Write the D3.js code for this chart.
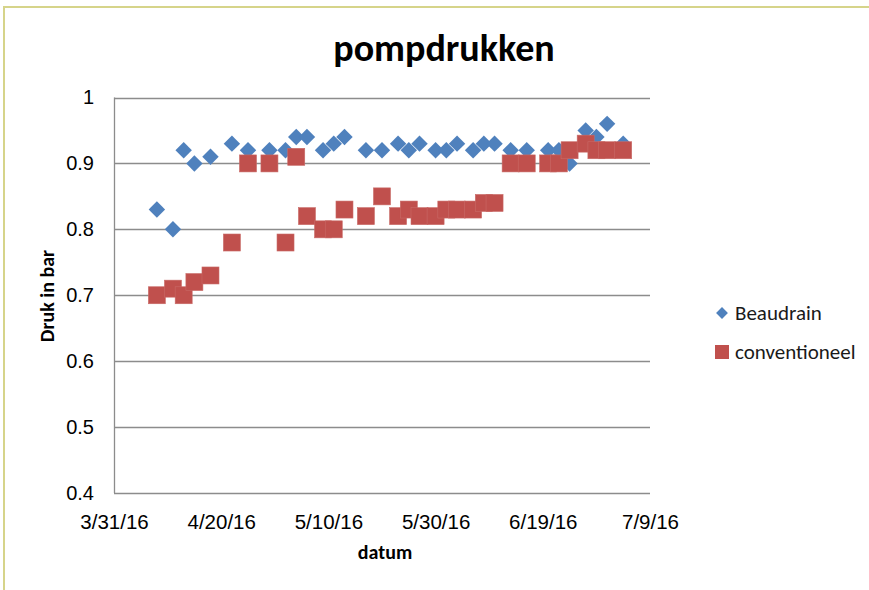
<!DOCTYPE html>
<html>
<head>
<meta charset="utf-8">
<script src="https://cdn.jsdelivr.net/npm/d3@7/dist/d3.min.js"></script>
<style>
  body { margin: 0; background: #fff; }
  svg { display: block; font-family: Carlito, Lato, 'Open Sans', sans-serif; }
</style>
</head>
<body>
<div id="container"></div>
<script>
const w = 869
const h = 590

// measurement dates (both series share them)
const dates = ['4/8/16', '4/11/16', '4/13/16', '4/15/16', '4/18/16', '4/22/16', '4/25/16', '4/29/16',
  '5/2/16', '5/4/16', '5/6/16', '5/9/16', '5/11/16', '5/13/16', '5/17/16', '5/20/16', '5/23/16',
  '5/25/16', '5/27/16', '5/30/16', '6/1/16', '6/3/16', '6/6/16', '6/8/16', '6/10/16', '6/13/16',
  '6/16/16', '6/20/16', '6/22/16', '6/24/16', '6/27/16', '6/29/16', '7/1/16', '7/4/16']

const beaudrain = [0.83, 0.80, 0.92, 0.90, 0.91, 0.93, 0.92, 0.92, 0.92, 0.94, 0.94, 0.92, 0.93,
  0.94, 0.92, 0.92, 0.93, 0.92, 0.93, 0.92, 0.92, 0.93, 0.92, 0.93, 0.93, 0.92, 0.92, 0.92, 0.92,
  0.90, 0.95, 0.94, 0.96, 0.93]

const conventioneel = [0.70, 0.71, 0.70, 0.72, 0.73, 0.78, 0.90, 0.90, 0.78, 0.91, 0.82, 0.80, 0.80,
  0.83, 0.82, 0.85, 0.82, 0.83, 0.82, 0.82, 0.83, 0.83, 0.83, 0.84, 0.84, 0.90, 0.90, 0.90, 0.90,
  0.92, 0.93, 0.92, 0.92, 0.92]

const xDomain = ['3/31/16', '7/9/16']
const xStepDays = 20
const yTicks = [0.4, 0.5, 0.6, 0.7, 0.8, 0.9, 1]

const parse = d3.timeParse('%m/%d/%y')
const fmt = d3.timeFormat('%-m/%-d/%y')

const plotLeft = 114
const plotRight = 650
const plotTop = 97.5
const plotBottom = 493

const svg = d3.select('div#container')
  .append('svg')
  .attr('width', w)
  .attr('height', h)

// outer frame
svg.append('path')
  .attr('d', 'M4,' + h + 'V7H' + w)
  .attr('fill', 'none')
  .attr('stroke', '#d6d48a')
  .attr('stroke-width', 2)

const x = d3.scaleTime()
  .domain(xDomain.map(parse))
  .range([plotLeft, plotRight])

const y = d3.scaleLinear()
  .domain([0.4, 1])
  .range([plotBottom, plotTop])

const xTicks = d3.range(0, 101, xStepDays).map(d => d3.timeDay.offset(parse(xDomain[0]), d))

// gridlines
svg.append('g')
  .selectAll('line')
  .data(yTicks)
  .enter().append('line')
  .attr('x1', plotLeft)
  .attr('x2', plotRight)
  .attr('y1', d => Math.round(y(d)) + 0.5)
  .attr('y2', d => Math.round(y(d)) + 0.5)
  .attr('stroke', '#8c8c8c')
  .attr('stroke-width', 1.3)

svg.append('line')
  .attr('x1', plotLeft + 0.5)
  .attr('x2', plotLeft + 0.5)
  .attr('y1', plotTop)
  .attr('y2', plotBottom)
  .attr('stroke', '#8c8c8c')
  .attr('stroke-width', 1.3)

// y axis labels
const yAxis = svg.append('g')
  .attr('transform', 'translate(' + plotLeft + ',0)')
  .call(d3.axisLeft(y).tickValues(yTicks).tickSize(0).tickPadding(20).tickFormat(d3.format('')))
yAxis.select('.domain').remove()
yAxis.selectAll('text')
  .attr('fill', '#000')
  .style('font-size', '20px')

// x axis labels
const xAxis = svg.append('g')
  .attr('transform', 'translate(0,' + plotBottom + ')')
  .call(d3.axisBottom(x).tickValues(xTicks).tickSize(0).tickPadding(21).tickFormat(fmt))
xAxis.select('.domain').remove()
xAxis.selectAll('text')
  .attr('fill', '#000')
  .style('font-size', '20.5px')

// title and axis titles
svg.append('text')
  .attr('x', 444)
  .attr('y', 61)
  .style('text-anchor', 'middle')
  .style('font-size', '38px')
  .style('font-weight', 'bold')
  .text('pompdrukken')

svg.append('text')
  .attr('x', 385)
  .attr('y', 559)
  .style('text-anchor', 'middle')
  .style('font-size', '20px')
  .style('font-weight', 'bold')
  .text('datum')

svg.append('text')
  .attr('transform', 'translate(54,296) rotate(-90)')
  .style('text-anchor', 'middle')
  .style('font-size', '20px')
  .style('font-weight', 'bold')
  .text('Druk in bar')

const blue = '#4f81bd'
const red = '#c0504d'

const redData = dates.map((d, i) => ({ date: parse(d), value: conventioneel[i] }))
const blueData = dates.map((d, i) => ({ date: parse(d), value: beaudrain[i] }))

svg.append('g')
  .selectAll('path')
  .data(blueData)
  .enter().append('path')
  .attr('d', d3.symbol(d3.symbolSquare, 135))
  .attr('transform', d => 'translate(' + x(d.date) + ',' + y(d.value) + ') rotate(45)')
  .attr('fill', blue)

svg.append('g')
  .selectAll('rect')
  .data(redData)
  .enter().append('rect')
  .attr('x', d => x(d.date) - 8.5)
  .attr('y', d => y(d.value) - 8.5)
  .attr('width', 17)
  .attr('height', 17)
  .attr('fill', red)
  .attr('stroke', '#c96a67')
  .attr('stroke-width', 0.6)

// legend
const legend = svg.append('g')
  .attr('transform', 'translate(722,0)')

legend.append('path')
  .attr('d', d3.symbol(d3.symbolSquare, 70))
  .attr('transform', 'translate(0,313) rotate(45)')
  .attr('fill', blue)

legend.append('rect')
  .attr('x', -7)
  .attr('y', 345)
  .attr('width', 14)
  .attr('height', 14)
  .attr('fill', red)

legend.append('text')
  .attr('x', 13)
  .attr('y', 320)
  .style('font-size', '21px')
  .attr('fill', '#1a1a1a')
  .text('Beaudrain')

legend.append('text')
  .attr('x', 13)
  .attr('y', 359)
  .style('font-size', '21px')
  .attr('fill', '#1a1a1a')
  .text('conventioneel')
</script>
</body>
</html>
